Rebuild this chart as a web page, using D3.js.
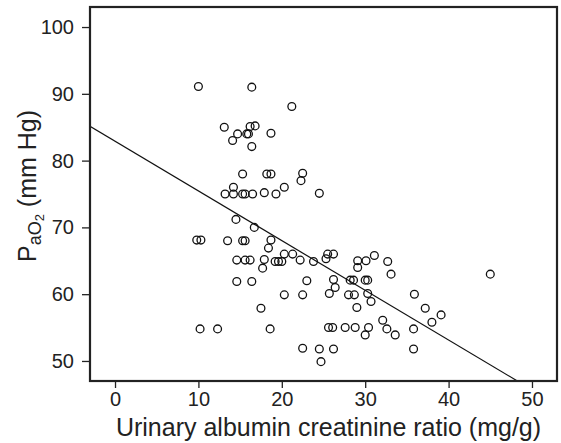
<!DOCTYPE html>
<html>
<head>
<meta charset="utf-8">
<script src="https://cdn.jsdelivr.net/npm/d3@7"></script>
<style>
  body { margin: 0; background: #fff; }
  svg { display: block; font-family: "Liberation Sans", Arial, sans-serif; }
</style>
</head>
<body>
<svg id="chart"></svg>
<script>
// Urinary albumin creatinine ratio (mg/g)
const uacr = [
  10.0, 16.4, 21.2, 13.1, 14.7, 14.1, 15.8, 16.0, 16.2, 16.8,
  18.7, 16.4, 15.3, 18.2, 18.7, 22.5, 22.3, 14.2, 13.2, 14.2,
  15.3, 15.6, 16.5, 17.9, 19.3, 20.3, 24.5, 14.5, 16.7, 9.8,
  10.3, 13.5, 15.3, 15.6, 18.7, 18.4, 20.3, 21.3, 22.2, 14.6,
  15.6, 16.2, 17.9, 17.7, 19.2, 19.6, 20.0, 14.6, 16.4, 23.0,
  20.3, 22.5, 17.5, 10.2, 12.3, 18.6, 22.5, 23.8, 25.3, 25.5,
  26.2, 29.1, 29.1, 30.1, 31.1, 32.7, 33.1, 26.2, 26.4, 28.2,
  28.6, 30.0, 30.3, 25.7, 28.0, 28.7, 30.3, 30.7, 29.0, 25.6,
  26.1, 27.6, 28.8, 30.4, 30.0, 32.1, 32.6, 33.6, 24.5, 26.2,
  24.7, 45.0, 35.9, 37.2, 39.1, 38.0, 35.8, 35.8
];
// PaO2 (mm Hg)
const pao2 = [
  91.1, 91.0, 88.1, 85.0, 84.0, 83.0, 84.0, 84.0, 85.1, 85.2,
  84.1, 82.1, 78.0, 78.0, 78.0, 78.1, 77.0, 76.0, 75.0, 75.0,
  75.0, 75.0, 75.0, 75.2, 75.0, 76.0, 75.1, 71.2, 70.0, 68.1,
  68.1, 68.0, 68.0, 68.0, 68.1, 66.9, 66.0, 66.0, 65.1, 65.1,
  65.1, 65.1, 65.2, 63.9, 64.9, 64.9, 64.9, 61.9, 61.9, 62.0,
  59.9, 59.9, 57.9, 54.8, 54.8, 54.8, 51.9, 64.9, 65.3, 66.0,
  66.0, 65.0, 64.0, 65.0, 65.8, 64.9, 63.0, 62.2, 61.0, 62.1,
  62.1, 62.1, 62.1, 60.1, 59.9, 59.9, 60.1, 58.9, 58.0, 55.0,
  55.0, 55.0, 55.0, 55.0, 53.9, 56.1, 54.8, 53.9, 51.8, 51.8,
  49.9, 63.0, 60.0, 57.9, 56.9, 55.8, 54.8, 51.8
];
const xTicks = [0, 10, 20, 30, 40, 50];
const yTicks = [50, 60, 70, 80, 90, 100];
// fitted regression line
const fitIntercept = 82.9;
const fitSlope = -0.744;

const data = uacr.map((v, i) => ({ x: v, y: pao2[i] }));

const totalW = 561, totalH = 443;
const margin = { top: 7, right: 4, bottom: 62, left: 90 };
const width = totalW - margin.left - margin.right;
const height = totalH - margin.top - margin.bottom;

const svg = d3.select("#chart")
  .attr("width", totalW)
  .attr("height", totalH);

const g = svg.append("g")
  .attr("transform", `translate(${margin.left},${margin.top})`);

const x = d3.scaleLinear().domain([-3, 53]).range([0, width]);
const y = d3.scaleLinear().domain([47, 103]).range([height, 0]);

// Axes
const xAxis = g.append("g")
  .attr("transform", `translate(0,${height})`)
  .call(d3.axisBottom(x).tickValues(xTicks).tickSize(7).tickPadding(4));
const yAxis = g.append("g")
  .call(d3.axisLeft(y).tickValues(yTicks).tickSize(8).tickPadding(8));

[xAxis, yAxis].forEach(a => {
  a.select(".domain").remove();
  a.selectAll("line").attr("stroke", "#222").attr("stroke-width", 1.3);
  a.selectAll("text")
    .attr("fill", "#222")
    .attr("font-size", 20)
    .attr("font-family", "'Liberation Sans', Arial, sans-serif");
});

// Clip
g.append("clipPath").attr("id", "plot-clip")
  .append("rect").attr("width", width).attr("height", height);

// Regression line
const xd = x.domain();
g.append("line")
  .attr("clip-path", "url(#plot-clip)")
  .attr("x1", x(xd[0]))
  .attr("y1", y(fitIntercept + fitSlope * xd[0]))
  .attr("x2", x(xd[1]))
  .attr("y2", y(fitIntercept + fitSlope * xd[1]))
  .attr("stroke", "#111")
  .attr("stroke-width", 1.2);

// Points
g.selectAll("circle")
  .data(data)
  .enter()
  .append("circle")
  .attr("cx", d => x(d.x))
  .attr("cy", d => y(d.y))
  .attr("r", 3.9)
  .attr("fill", "none")
  .attr("stroke", "#111")
  .attr("stroke-width", 1.3);

// Frame
g.append("rect")
  .attr("width", width)
  .attr("height", height)
  .attr("fill", "none")
  .attr("stroke", "#222")
  .attr("stroke-width", 2.2);

// Axis titles
svg.append("text")
  .attr("x", margin.left + width / 2 + 5)
  .attr("y", 436)
  .attr("text-anchor", "middle")
  .attr("font-size", 25)
  .attr("fill", "#222")
  .text("Urinary albumin creatinine ratio (mg/g)");

const yt = svg.append("text")
  .attr("transform", `translate(36,${margin.top + height / 2 - 8}) rotate(-90)`)
  .attr("text-anchor", "middle")
  .attr("font-size", 25)
  .attr("fill", "#222");
yt.append("tspan").text("P");
yt.append("tspan").attr("font-size", 18).attr("dy", 5).text("aO");
yt.append("tspan").attr("font-size", 13).attr("dy", 3).text("2");
yt.append("tspan").attr("dy", -8).text(" (mm Hg)");
</script>
</body>
</html>
